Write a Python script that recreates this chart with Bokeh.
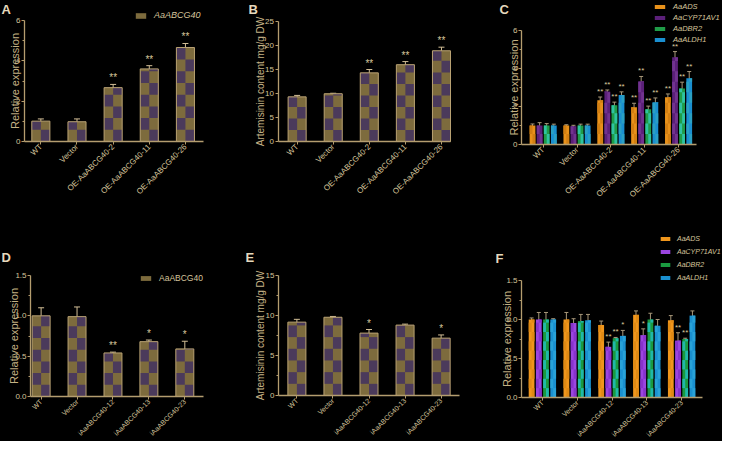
import numpy as np
from math import pi
from bokeh.plotting import figure
from bokeh.layouts import row, column
from bokeh.models import (Range1d, FixedTicker, ColumnDataSource, Whisker, TeeHead,
                          Label, Legend, LegendItem)
from bokeh.core.properties import value
from bokeh.embed import file_html
from bokeh.resources import INLINE

FONT = "Liberation Sans"

# ---------------- data ----------------
oe_lines = ["WT", "Vector", "OE-AaABCG40-2", "OE-AaABCG40-11", "OE-AaABCG40-26"]
ri_lines = ["WT", "Vector", "iAaABCG40-12", "iAaABCG40-13", "iAaABCG40-23"]
genes = ["AaADS", "AaCYP71AV1", "AaDBR2", "AaALDH1"]

# A: AaABCG40 relative expression (overexpression)
a_expr = [1.01, 0.98, 2.67, 3.60, 4.66]
a_err = [0.11, 0.14, 0.16, 0.16, 0.20]
a_sig = ["", "", "**", "**", "**"]

# B: artemisinin content (overexpression)
b_art = [9.3, 9.95, 14.3, 16.0, 18.9]
b_err = [0.3, 0.1, 0.7, 0.65, 0.75]
b_sig = ["", "", "**", "**", "**"]

# C: pathway genes (overexpression)
c_ads = [1.0, 1.0, 2.33, 1.96, 2.49]
c_ads_err = [0.08, 0.04, 0.17, 0.21, 0.17]
c_cyp = [1.0, 0.96, 2.79, 3.33, 4.59]
c_cyp_err = [0.15, 0.05, 0.08, 0.25, 0.30]
c_dbr = [1.0, 1.0, 2.07, 1.86, 2.95]
c_dbr_err = [0.10, 0.07, 0.16, 0.16, 0.33]
c_aldh = [1.0, 1.0, 2.61, 2.22, 3.49]
c_aldh_err = [0.07, 0.07, 0.16, 0.23, 0.35]
c_sig = ["", "", "**", "**", "**"]

# D: AaABCG40 relative expression (RNAi)
d_expr = [1.0, 0.99, 0.54, 0.68, 0.59]
d_err = [0.10, 0.12, 0.01, 0.02, 0.095]
d_sig = ["", "", "**", "*", "*"]

# E: artemisinin content (RNAi)
e_art = [9.17, 9.78, 7.8, 8.8, 7.17]
e_err = [0.35, 0.10, 0.45, 0.12, 0.40]
e_sig = ["", "", "*", "", "*"]

# F: pathway genes (RNAi)
f_ads = [1.0, 1.0, 0.93, 1.06, 0.99]
f_ads_err = [0.02, 0.09, 0.05, 0.05, 0.06]
f_ads_sig = ["", "", "", "", ""]
f_cyp = [1.0, 0.955, 0.65, 0.80, 0.73]
f_cyp_err = [0.09, 0.055, 0.06, 0.08, 0.10]
f_cyp_sig = ["", "", "**", "*", "**"]
f_dbr = [1.0, 0.98, 0.76, 1.0, 0.75]
f_dbr_err = [0.09, 0.085, 0.01, 0.08, 0.01]
f_dbr_sig = ["", "", "**", "", "**"]
f_aldh = [1.0, 0.99, 0.79, 0.92, 1.05]
f_aldh_err = [0.01, 0.075, 0.07, 0.08, 0.06]
f_aldh_sig = ["", "", "*", "", ""]

# axis ticks
expr6_ticks = [0, 2, 4, 6]
expr6_labels = ["0", "2", "4", "6"]
expr6_minor = [1, 3, 5]
art25_ticks = [0, 5, 10, 15, 20, 25]
art25_labels = ["0", "5", "10", "15", "20", "25"]
expr15_ticks = [0, 0.5, 1.0, 1.5]
expr15_labels = ["0.0", "0.5", "1.0", "1.5"]
expr15_minor = [0.25, 0.75, 1.25]
art15_ticks = [0, 5, 10, 15]
art15_labels = ["0", "5", "10", "15"]
art15_minor = [2.5, 7.5, 12.5]

# ---------------- styles ----------------
AXC = "#b49d6f"
TXT = "#d6c59c"
LBL = "#c4b184"
OLIVE = "#7d6b3d"
PURP = "#4b3a5b"
BAR_LINE = "#b9a273"
ERR1 = "#d2be96"
ERR2 = "#a8987a"
STAR = "#d8c89c"
LETTER = "#e6d9bc"

gene_cols_c = [("#e8911a", "#d27f12"), ("#5b2079", "#71338f"),
               ("#1f9c48", "#2ec3a0"), ("#1a8fd0", "#2aa0c4")]
gene_cols_f = [("#f0961c", "#e08a14"), ("#9b45e0", "#8733cc"),
               ("#1a9a40", "#20b8a8"), ("#1a90d0", "#28a2d8")]


def base_fig(box, axis_px, xlim, ylim, cats, yticks, ylabels, yminor, ylabel,
             ylab_size, xlab_size, lab_standoff):
    """box = (page x, page y, width, height) of the figure;
    axis_px = (page x of y-axis, page x of x-axis end, page y of y=0, page y of y max)."""
    fx, fy, W, H = box
    X0, X1, Yb, Yt = axis_px
    xl, xr = xlim
    yb, yt = ylim
    sx = (X1 - X0) / (xr - xl)
    sy = (Yb - Yt) / (yt - yb)
    x_start = xl - (X0 - fx) / sx
    x_end = xl + (fx + W - X0) / sx
    y_start = yb - (fy + H - Yb) / sy
    y_end = yb + (Yb - fy) / sy
    p = figure(width=W, height=H, x_range=Range1d(x_start, x_end),
               y_range=Range1d(y_start, y_end), title=None,
               output_backend="svg", toolbar_location=None, min_border=0)
    p.background_fill_color = "black"
    p.border_fill_color = "black"
    p.outline_line_color = None
    p.grid.visible = False
    xa = p.xaxis[0]
    ya = p.yaxis[0]
    xa.fixed_location = yb
    ya.fixed_location = xl
    xa.bounds = (xl, xr)
    ya.bounds = (yb, yt)
    xa.ticker = FixedTicker(ticks=list(range(len(cats))))
    xa.major_label_overrides = {i: c for i, c in enumerate(cats)}
    xa.major_label_orientation = pi / 4
    ya.ticker = FixedTicker(ticks=yticks, minor_ticks=yminor)
    ya.major_label_overrides = {tk: lb for tk, lb in zip(yticks, ylabels)}
    ya.axis_label = ylabel
    for ax in (xa, ya):
        ax.axis_line_color = AXC
        ax.axis_line_width = 1.3
        ax.major_tick_line_color = AXC
        ax.minor_tick_line_color = AXC
        ax.major_tick_in = 0
        ax.major_tick_out = 3
        ax.minor_tick_in = 0
        ax.minor_tick_out = 2
        ax.major_label_text_color = TXT
        ax.major_label_text_font = FONT
        ax.major_label_text_font_size = "8px"
        ax.major_label_standoff = 1
    xa.major_label_text_font_size = xlab_size
    ya.axis_label_text_font = FONT
    ya.axis_label_text_font_size = ylab_size
    ya.axis_label_text_font_style = "normal"
    ya.axis_label_text_color = LBL
    ya.axis_label_standoff = lab_standoff
    return p


def checker_cells(xs, vals, width, cell):
    L, R, B, T = [], [], [], []
    for x, v in zip(xs, vals):
        n = int(np.ceil(v / cell - 1e-9))
        for k in range(n):
            b = k * cell
            t = min((k + 1) * cell, v)
            left = x - width / 2 + (width / 2 if k % 2 == 0 else 0)
            L.append(left); R.append(left + width / 2); B.append(b); T.append(t)
    return dict(left=L, right=R, bottom=B, top=T)


def draw_bars(p, xs, vals, errs, sigs, width, cell, c1, c2, outline, errc,
              head, star_size):
    xs = list(xs)
    src = ColumnDataSource(dict(x=xs, top=vals,
                                upper=[v + e for v, e in zip(vals, errs)],
                                lower=[v - e for v, e in zip(vals, errs)],
                                sig=sigs))
    r = p.vbar(x="x", top="top", bottom=0, width=width, source=src,
               fill_color=c1, line_color=None)
    p.quad(source=ColumnDataSource(checker_cells(xs, vals, width, cell)),
           left="left", right="right", bottom="bottom", top="top",
           fill_color=c2, line_color=None)
    if outline:
        p.vbar(x="x", top="top", bottom=0, width=width, source=src,
               fill_color=None, line_color=outline, line_width=1)
    p.add_layout(Whisker(source=src, base="x", upper="upper", lower="lower",
                         line_color=errc, line_width=1,
                         upper_head=TeeHead(size=head, line_color=errc, line_width=1),
                         lower_head=TeeHead(size=head, line_color=errc, line_width=1)))
    p.text(x="x", y="upper", text="sig", source=src, text_align="center",
           text_baseline="bottom", y_offset=-1, text_color=STAR,
           text_font=value(FONT), text_font_size=star_size)
    return r


def add_legend(p, items, loc, font_size, gw, gh, lh, stand=7, italic=True):
    lg = Legend(items=[LegendItem(label=lab, renderers=[rr]) for lab, rr in items],
                location=loc)
    lg.label_text_font = FONT
    lg.label_text_font_size = font_size
    lg.label_text_color = TXT
    lg.label_text_font_style = "italic" if italic else "normal"
    lg.glyph_width = gw
    lg.glyph_height = gh
    lg.label_height = lh
    lg.label_standoff = stand
    lg.padding = 0
    lg.margin = 0
    lg.spacing = 0
    lg.border_line_color = None
    lg.background_fill_alpha = 0
    p.add_layout(lg)


def letter(p, txt, x, y):
    p.add_layout(Label(x=x, y=y, x_units="screen", y_units="screen", text=txt,
                       text_font=FONT, text_font_size="13px",
                       text_font_style="bold", text_color=LETTER,
                       text_baseline="top", text_align="left"))


idx = np.arange(5)

# ---------------- A ----------------
pA = base_fig((8, 8, 237, 220), (32, 211, 149, 28), (-0.48 + 1 / 36, 4.5), (0, 6),
              oe_lines, expr6_ticks, expr6_labels, expr6_minor,
              "Relative expression", "11px", "8px", -8)
rA = draw_bars(pA, idx, a_expr, a_err, a_sig, 0.5, 0.58, OLIVE, PURP, BAR_LINE,
               ERR1, 6, "10px")
add_legend(pA, [("AaABCG40", rA)], (134, 199), "9px", 13, 7, 12)
letter(pA, "A", 1, 219)

# ---------------- B ----------------
pB = base_fig((245, 8, 245, 220), (285.5, 458, 149, 29), (-0.53, 4.25), (0, 25),
              oe_lines, art25_ticks, art25_labels, [],
              "Artemisinin content mg/g DW", "10px", "8px", -3)
draw_bars(pB, idx, b_art, b_err, b_sig, 0.5, 2.4, OLIVE, PURP, BAR_LINE,
          ERR1, 6, "10px")
letter(pB, "B", 11, 219)

# ---------------- C ----------------
pC = base_fig((490, 8, 240, 220), (529, 704, 152, 38), (-0.64, 4.53), (0, 6),
              oe_lines, expr6_ticks, expr6_labels, expr6_minor,
              "Relative expression", "11px", "8px", -10)
pitch_c, w_c = 0.21, 0.17
c_sets = [(c_ads, c_ads_err), (c_cyp, c_cyp_err), (c_dbr, c_dbr_err), (c_aldh, c_aldh_err)]
c_rs = []
for gi, (vals, errs) in enumerate(c_sets):
    c1, c2 = gene_cols_c[gi]
    rr = draw_bars(pC, idx + (gi - 1.5) * pitch_c, vals, errs, c_sig, w_c, 0.55,
                   c1, c2, None, ERR2, 4, "8px")
    c_rs.append(rr)
add_legend(pC, list(zip(genes, c_rs)), (171, 175), "7.5px", 13, 5, 11)
letter(pC, "C", 17, 219)

# ---------------- D ----------------
pD = base_fig((8, 228, 237, 221), (38, 211, 404, 283), (-0.49 + 7 / 36, 4.52), (0, 1.5),
              ri_lines, expr15_ticks, expr15_labels, expr15_minor,
              "Relative expression", "11px", "7px", -8)
rD = draw_bars(pD, idx, d_expr, d_err, d_sig, 0.5, 0.145, OLIVE, PURP, BAR_LINE,
               ERR1, 6, "10px")
add_legend(pD, [("AaABCG40", rD)], (139, 157), "8.5px", 13, 6, 12, italic=False)
letter(pD, "D", 1, 192)

# ---------------- E ----------------
pE = base_fig((245, 228, 245, 221), (286, 467, 403, 283), (-0.51, 4.51), (0, 15),
              ri_lines, art15_ticks, art15_labels, art15_minor,
              "Artemisinin content mg/g DW", "10px", "7px", -3)
draw_bars(pE, idx, e_art, e_err, e_sig, 0.5, 1.46, OLIVE, PURP, BAR_LINE,
          ERR1, 6, "10px")
letter(pE, "E", 8, 192)

# ---------------- F ----------------
pF = base_fig((490, 228, 240, 221), (529, 710, 405, 288), (-0.6, 4.6), (0, 1.5),
              ri_lines, expr15_ticks, expr15_labels, expr15_minor,
              "Relative expression", "11px", "7px", -10)
pitch_f, w_f = 0.207, 0.165
f_sets = [(f_ads, f_ads_err, f_ads_sig), (f_cyp, f_cyp_err, f_cyp_sig),
          (f_dbr, f_dbr_err, f_dbr_sig), (f_aldh, f_aldh_err, f_aldh_sig)]
f_rs = []
for gi, (vals, errs, sigs) in enumerate(f_sets):
    c1, c2 = gene_cols_f[gi]
    rr = draw_bars(pF, idx + (gi - 1.5) * pitch_f, vals, errs, sigs, w_f, 0.12,
                   c1, c2, None, ERR2, 4, "8px")
    f_rs.append(rr)
add_legend(pF, list(zip(genes, f_rs)), (177, 157), "7px", 12, 5, 13, stand=6)
letter(pF, "F", 13, 191)

layout = column(row(pA, pB, pC), row(pD, pE, pF))
layout.styles = {"background-color": "black"}

open("out.html", "w").write(file_html(layout, INLINE))
